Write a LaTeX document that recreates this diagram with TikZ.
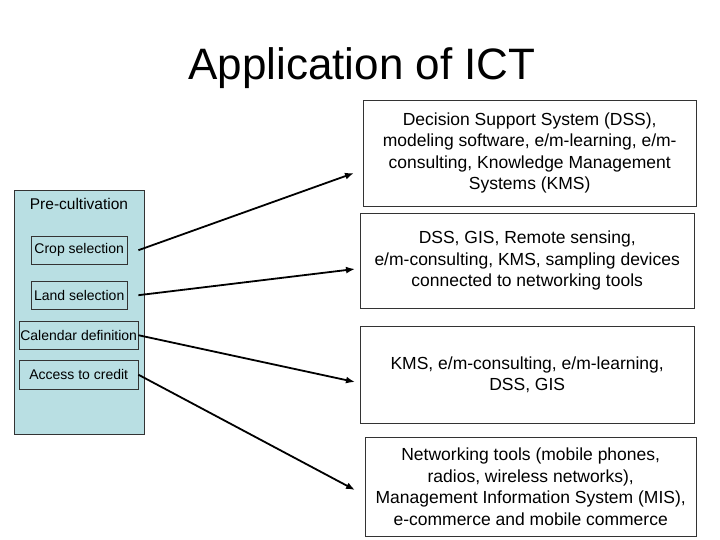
\documentclass[tikz,border=0pt]{standalone}
\usepackage{fontspec}
\setmainfont{Liberation Sans}
\usetikzlibrary{arrows.meta}
\begin{document}
\begin{tikzpicture}[x=1pt,y=-1pt,
  rbox/.style={draw=black!80,fill=white,align=center,font=\fontsize{17.5}{21.5}\selectfont,inner sep=0pt,anchor=north west},
  sbox/.style={draw=black!80,inner sep=0pt,anchor=north west,font=\fontsize{14}{16}\selectfont},
  arr/.style={-{Latex[length=9pt,width=7pt]},line width=1.8pt}]
\useasboundingbox (0,0) rectangle (720,540);
\fill[white] (0,0) rectangle (720,540);
\node (title) at (362,68) {\fontsize{44}{48}\selectfont Application of ICT};
\node[draw=black!80,fill={rgb,255:red,185;green,223;blue,227},minimum width=130pt,minimum height=244pt,anchor=north west,inner sep=0pt] (panel) at (14,190) {};
\node[font=\fontsize{15.5}{18}\selectfont] (pre) at (79,204) {Pre-cultivation};
\node[sbox,minimum width=96pt,minimum height=28pt] (crop) at (31,236) {Crop selection};
\node[sbox,minimum width=96pt,minimum height=28pt] (land) at (31,281) {Land selection};
\node[sbox,minimum width=119pt,minimum height=28pt] (cal) at (19,321) {Calendar definition};
\node[sbox,minimum width=119pt,minimum height=29pt] (acc) at (19,360) {Access to credit};
\node[rbox,minimum width=333pt,minimum height=106pt] (b1) at (363,100) {Decision Support System (DSS),\\modeling software, e/m-learning, e/m-\\consulting, Knowledge Management\\Systems (KMS)};
\node[rbox,minimum width=334pt,minimum height=95pt] (b2) at (360,213) {DSS, GIS, Remote sensing,\\e/m-consulting, KMS, sampling devices\\connected to networking tools};
\node[rbox,minimum width=334pt,minimum height=97pt] (b3) at (360,326) {KMS, e/m-consulting, e/m-learning,\\DSS, GIS};
\node[rbox,minimum width=331pt,minimum height=99pt] (b4) at (365,437) {Networking tools (mobile phones,\\radios, wireless networks),\\Management Information System (MIS),\\e-commerce and mobile commerce};
\coordinate (e1) at (354,173);
\coordinate (e2) at (355,269);
\coordinate (e3) at (355,382);
\coordinate (e4) at (355,490);
\draw[arr] (crop.east)++(11,0) -- (e1);
\draw[arr] (land.east)++(11,0) -- (e2);
\draw[arr] (cal.east) -- (e3);
\draw[arr] (acc.east) -- (e4);
\end{tikzpicture}
\end{document}
